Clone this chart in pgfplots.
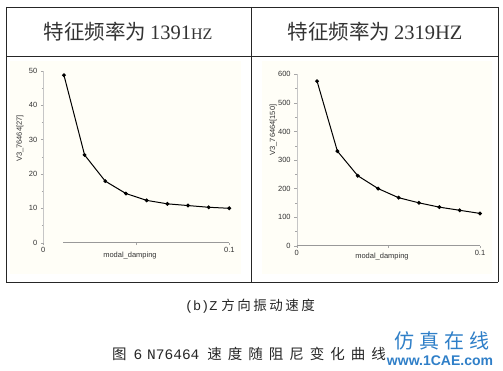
\documentclass[border=0pt]{standalone}
\usepackage{fontspec}
\setmainfont{Liberation Serif}
\setsansfont{Liberation Sans}
\setmonofont{Liberation Mono}
\newfontfamily\cjk{Noto Sans CJK SC}
\usepackage{pgfplots}
\pgfplotsset{compat=1.18}
\definecolor{cream}{HTML}{FFFEF7}
\definecolor{wmblue}{HTML}{2F7FC8}
\pgfplotsset{mystyle/.style={
  scale only axis, enlargelimits=false,
  axis x line*=bottom, axis y line*=left,
  x axis line style={draw=none},
  y axis line style={draw=gray!45, line width=0.4pt},
  tick align=outside,
  tick style={gray!70, line width=0.4pt},
  major tick length=2.5pt, minor tick length=1.5pt,
  /pgf/number format/assume math mode=true,
  tick label style={font=\sffamily\fontsize{7.5}{8}\selectfont, text=black!80},
  xticklabel style={yshift=1pt},
  label style={font=\sffamily\fontsize{7.5}{8}\selectfont, text=black!80},
  xmin=0, xmax=0.1, xtick={0,0.05,0.1}, xticklabels={0,,0.1},
  scaled x ticks=false,
  clip=false,
}}
\begin{document}
\begin{tikzpicture}[x=1pt,y=1pt]
\useasboundingbox (0pt,0pt) rectangle (503pt,370pt);
\fill[white] (0pt,0pt) rectangle (503pt,370pt);
% panel backgrounds
\fill[cream] (10pt,96pt) rectangle (241pt,309pt);
\fill[cream] (262pt,96pt) rectangle (492pt,309pt);
% table
\draw[black!85, line width=0.8pt] (6pt,363pt) -- (498pt,363pt);
\draw[black!85, line width=0.8pt] (6pt,314pt) -- (498pt,314pt);
\draw[black!85, line width=0.8pt] (6pt,88pt) -- (498pt,88pt);
\draw[black!85, line width=0.8pt] (6pt,363pt) -- (6pt,88pt);
\draw[black!85, line width=0.8pt] (251pt,363pt) -- (251pt,88pt);
\draw[black!85, line width=0.8pt] (498pt,363pt) -- (498pt,88pt);
% headers
\node[text=black!80] at (128pt,338pt) {\fontsize{20.5}{23}\selectfont{\cjk 特征频率为}\hspace{4pt}1391{\fontsize{16}{18}\selectfont HZ}};
\node[text=black!80] at (375pt,338pt) {\fontsize{20.5}{23}\selectfont{\cjk 特征频率为}\hspace{4pt}2319HZ};
% left plot
\begin{axis}[mystyle, at={(43.3pt,127.3pt)}, anchor=south west,
  width=186pt, height=172pt,
  ymin=0, ymax=50, ytick={0,10,...,50}, minor ytick={5,15,...,45},
  ylabel={V3\_76464[27]},
  ylabel style={at={(axis description cs:-0.125,0.605)}, anchor=center, rotate=0},
  xlabel={modal\_damping},
  xlabel style={at={(axis description cs:0.466,-0.072)}, anchor=center},
]
\draw[gray!80, line width=0.6pt] (axis cs:0.0108,0) -- (axis cs:0.1,0);
\addplot[black, line width=1pt, mark=*, mark size=1.4pt] coordinates {
(0.0111,48.7) (0.0222,25.5) (0.0333,17.9) (0.0444,14.3) (0.0556,12.3)
(0.0667,11.3) (0.0778,10.8) (0.0889,10.3) (0.1,10.0)};
\end{axis}
% right plot
\begin{axis}[mystyle, at={(296.7pt,124.3pt)}, anchor=south west,
  width=183.3pt, height=171.4pt,
  ymin=0, ymax=600, ytick={0,100,...,600}, minor ytick={50,150,...,550},
  ylabel={V3\_76464[150]},
  ylabel style={at={(axis description cs:-0.128,0.675)}, anchor=center, rotate=0},
  xlabel={modal\_damping},
  xlabel style={at={(axis description cs:0.465,-0.064)}, anchor=center},
]
\draw[gray!80, line width=0.6pt] (axis cs:0,0) -- (axis cs:0.1,0);
\addplot[black, line width=1pt, mark=*, mark size=1.4pt] coordinates {
(0.0111,576) (0.0222,331) (0.0333,245) (0.0444,200) (0.0556,168)
(0.0667,150) (0.0778,135) (0.0889,124) (0.1,113)};
\end{axis}
% captions
\node[text=black!85] at (250pt,64pt) {\fontsize{13.5}{16}\selectfont\ttfamily (b)Z\hspace{4pt}{\cjk 方\hspace{2.5pt}向\hspace{2.5pt}振\hspace{2.5pt}动\hspace{2.5pt}速\hspace{2.5pt}度}};
\node[text=black!85] at (249pt,16pt) {\fontsize{14.5}{17}\selectfont{\cjk 图}\hspace{7pt}\ttfamily 6\hspace{5pt}N76464\hspace{8pt}{\cjk 速\hspace{6pt}度\hspace{6pt}随\hspace{6pt}阻\hspace{6pt}尼\hspace{6pt}变\hspace{6pt}化\hspace{6pt}曲\hspace{6pt}线}};
% watermark
\node[text=wmblue] at (442pt,29pt) {\fontsize{20}{22}\selectfont{\cjk 仿\hspace{5pt}真\hspace{5pt}在\hspace{5pt}线}};
\node[text=wmblue, font=\sffamily\bfseries] at (440pt,9pt) {\fontsize{14}{15}\selectfont www.1CAE.com};
\end{tikzpicture}
\end{document}
